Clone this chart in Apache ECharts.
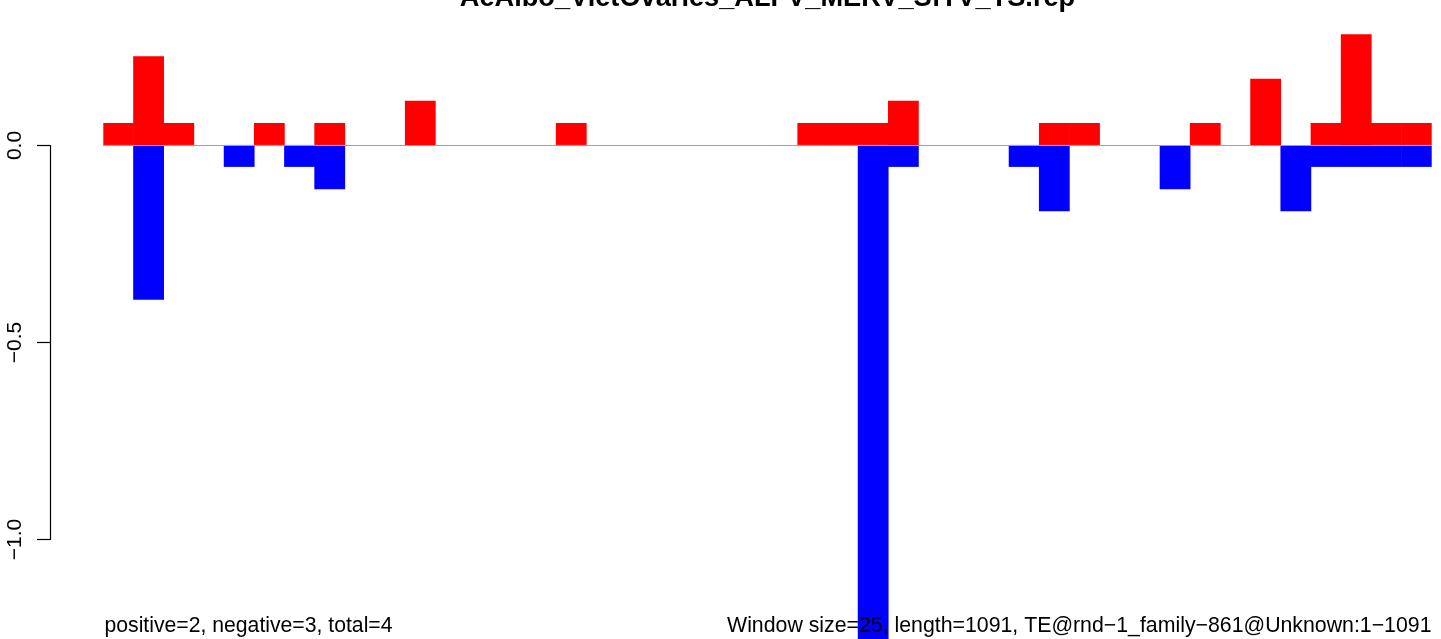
<!DOCTYPE html>
<html>
<head>
<meta charset="utf-8">
<script src="https://cdn.jsdelivr.net/npm/echarts@6/dist/echarts.min.js"></script>
<style>
html,body{margin:0;padding:0;background:#fff;}
#chart{width:1441px;height:639px;}
</style>
</head>
<body>
<div id="chart"></div>
<script>
// 44 windows of size 25 over length 1091
const windows = ['1','2','3','4','5','6','7','8','9','10','11','12','13','14','15','16','17','18','19','20','21','22','23','24','25','26','27','28','29','30','31','32','33','34','35','36','37','38','39','40','41','42','43','44'];
const positiveValues = [0.056,0.226,0.056,0,0,0.056,0,0.056,0,0,0.113,0,0,0,0,0.056,0,0,0,0,0,0,0,0.056,0.056,0.056,0.113,0,0,0,0,0.056,0.056,0,0,0,0.056,0,0.169,0,0.056,0.282,0.056,0.056];
const negativeValues = [0,-0.395,0,0,-0.056,0,-0.056,-0.113,0,0,0,0,0,0,0,0,0,0,0,0,0,0,0,0,0,-1.3,-0.056,0,0,0,-0.056,-0.169,0,0,0,-0.113,0,0,0,-0.169,-0.056,-0.056,-0.056,-0.056];
const yTicks = [0, -0.5, -1.0];
const titleText = 'AeAlbo_VietOvaries_ALFV_MERV_SfTV_TS.rep';
const leftNote = 'positive=2, negative=3, total=4';
const rightNote = 'Window size=25, length=1091, TE@rnd\u22121_family\u2212861@Unknown:1\u22121091';

const FONT = '"Liberation Sans", Arial, Helvetica, sans-serif';
const chart = echarts.init(document.getElementById('chart'), null, {renderer: 'canvas'});

const option = {
  animation: false,
  backgroundColor: '#ffffff',
  grid: [
    {left: 103.3, right: 9.3, top: 27.3, bottom: -2.9},
    {left: 50, width: 10, top: 145.5, bottom: 99.5}
  ],
  xAxis: [
    {type: 'category', gridIndex: 0, data: windows, z: 5,
     axisLine: {show: true, onZero: true, lineStyle: {color: '#a0a0a0', width: 1}},
     axisTick: {show: false}, axisLabel: {show: false}, splitLine: {show: false}},
    {type: 'value', gridIndex: 1, show: false}
  ],
  yAxis: [
    {type: 'value', gridIndex: 0, min: -1.26, max: 0.3, show: false, splitLine: {show: false}},
    {type: 'value', gridIndex: 1, min: yTicks[2], max: yTicks[0], interval: 0.5,
     axisLine: {show: true, lineStyle: {color: '#000', width: 1.2}},
     axisTick: {show: true, length: 13, lineStyle: {color: '#000', width: 1.2}},
     splitLine: {show: false},
     axisLabel: {show: true, rotate: 90, margin: 24, fontSize: 21, color: '#000', fontFamily: FONT,
       formatter: function (v) { return v.toFixed(1).replace('-', '\u2212'); }}}
  ],
  series: [
    {type: 'bar', name: 'positive', xAxisIndex: 0, yAxisIndex: 0, data: positiveValues,
     barGap: '-100%', barWidth: 30.8, itemStyle: {color: '#ff0000'}, clip: true},
    {type: 'bar', name: 'negative', xAxisIndex: 0, yAxisIndex: 0, data: negativeValues,
     barGap: '-100%', barWidth: 30.8, itemStyle: {color: '#0000ff'}, clip: true}
  ],
  graphic: [
    {type: 'text', z: 100, x: 767.5, y: -1,
     style: {text: titleText, fill: '#000', font: 'bold 27.2px ' + FONT, textAlign: 'center', textVerticalAlign: 'middle'}},
    {type: 'text', z: 100, x: 104.5, y: 626,
     style: {text: leftNote, fill: '#000', font: '21.2px ' + FONT, textAlign: 'left', textVerticalAlign: 'middle'}},
    {type: 'text', z: 100, x: 1431.5, y: 626,
     style: {text: rightNote, fill: '#000', font: '21.3px ' + FONT, textAlign: 'right', textVerticalAlign: 'middle'}}
  ]
};
chart.setOption(option);
</script>
</body>
</html>
